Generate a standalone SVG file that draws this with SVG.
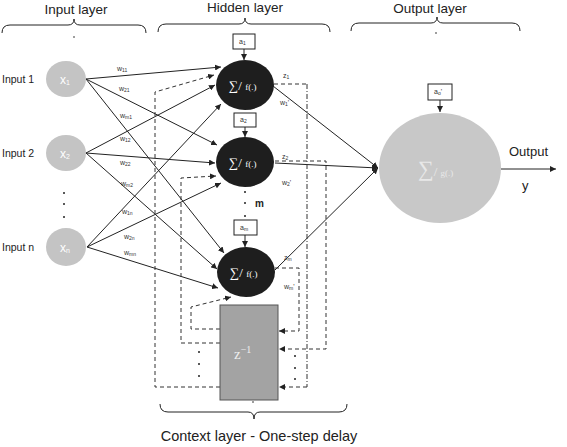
<svg xmlns="http://www.w3.org/2000/svg" width="567" height="447" viewBox="0 0 567 447">
<defs>
<marker id="ah" viewBox="0 0 10 10" refX="10" refY="5" markerWidth="6" markerHeight="6" orient="auto" markerUnits="userSpaceOnUse"><path d="M0,0 L10,5 L0,10 z" fill="#222"/></marker>
<style>
.t{font-family:"Liberation Sans",Arial,sans-serif;fill:#222}
.title{font-size:13.5px}
.lbl{font-size:7px;fill:#333}
.in{fill:#c4c4c4}
.hid{fill:#1e1e1e}
.wt{font-family:"Liberation Serif",serif;fill:#fff}
.sol{stroke:#222;stroke-width:1;fill:none}
.dash{stroke:#333;stroke-width:1;fill:none;stroke-dasharray:4 3}
.dd{stroke:#333;stroke-width:1;fill:none;stroke-dasharray:5 2 1 2}
.brace{stroke:#222;stroke-width:1;fill:none}
.bias{fill:#fff;stroke:#222;stroke-width:1}
.dot{fill:#222}
</style>
</defs>
<rect width="567" height="447" fill="#fff"/>

<!-- titles and braces -->
<g id="titles">
<text class="t title" x="76" y="14" text-anchor="middle">Input layer</text>
<text class="t title" x="245" y="12" text-anchor="middle">Hidden layer</text>
<text class="t title" x="430" y="13" text-anchor="middle">Output layer</text>
<path class="brace" d="M2,33 Q2,25 10,25 L68,25 Q74,25 74,19 Q74,25 80,25 L138,25 Q146,25 146,33"/>
<path class="brace" d="M158,32 Q158,24 166,24 L239,24 Q245,24 245,18 Q245,24 251,24 L322,24 Q330,24 330,32"/>
<path class="brace" d="M351,31 Q351,23 359,23 L431,23 Q437,23 437,17 Q437,23 443,23 L512,23 Q520,23 520,31"/>
<circle class="dot" cx="74" cy="37" r="0.8"/>
<circle class="dot" cx="245" cy="35" r="0.8"/>
<circle class="dot" cx="436" cy="33" r="0.8"/>
<path class="brace" d="M160,404 Q160,412 168,412 L248,412 Q254,412 254,419 Q254,412 260,412 L339,412 Q347,412 347,404"/>
<circle class="dot" cx="253" cy="402" r="0.8"/>
<text class="t" font-size="14.5" x="259" y="441" text-anchor="middle">Context layer - One-step delay</text>
</g>

<!-- connectors -->
<g id="connectors">
<line class="sol" x1="86" y1="79" x2="221" y2="67" marker-end="url(#ah)"/>
<line class="sol" x1="86" y1="79" x2="217" y2="145" marker-end="url(#ah)"/>
<line class="sol" x1="86" y1="79" x2="224" y2="253" marker-end="url(#ah)"/>
<line class="sol" x1="86" y1="153" x2="215" y2="85" marker-end="url(#ah)"/>
<line class="sol" x1="86" y1="153" x2="215" y2="163" marker-end="url(#ah)"/>
<line class="sol" x1="86" y1="153" x2="217" y2="269" marker-end="url(#ah)"/>
<line class="sol" x1="87" y1="247" x2="221" y2="104" marker-end="url(#ah)"/>
<line class="sol" x1="87" y1="247" x2="221" y2="183" marker-end="url(#ah)"/>
<line class="sol" x1="87" y1="247" x2="218" y2="288" marker-end="url(#ah)"/>
<line class="sol" x1="273" y1="86" x2="378" y2="168" marker-end="url(#ah)"/>
<line class="sol" x1="275" y1="163" x2="378" y2="168" marker-end="url(#ah)"/>
<line class="sol" x1="275" y1="270" x2="378" y2="168" marker-end="url(#ah)"/>
<line class="sol" x1="244" y1="49" x2="244" y2="60" marker-end="url(#ah)"/>
<line class="sol" x1="245" y1="127" x2="245" y2="137" marker-end="url(#ah)"/>
<line class="sol" x1="245" y1="235" x2="245" y2="247" marker-end="url(#ah)"/>
<line class="sol" x1="440" y1="100" x2="440" y2="112" marker-end="url(#ah)"/>
<line class="sol" x1="501" y1="169" x2="556" y2="169" marker-end="url(#ah)"/>
<polyline class="dash" points="274,84 307,84"/>
<polyline class="dd" points="307,84 307,387"/>
<polyline class="dash" points="307,387 279,387" marker-end="url(#ah)"/>
<polyline class="dash" points="275,161 326,161 326,349 279,349" marker-end="url(#ah)"/>
<polyline class="dash" points="275,268 299,268 299,331 279,331" marker-end="url(#ah)"/>
<polyline class="dash" points="220,387 155,387 155,92 214,75" marker-end="url(#ah)"/>
<polyline class="dash" points="220,343 181,343 181,178 216,176" marker-end="url(#ah)"/>
<polyline class="dash" points="220,329 191,329 191,307 231,297" marker-end="url(#ah)"/>
</g>

<!-- weight labels -->
<g id="weights" class="t lbl">
<text x="117" y="71">w<tspan font-size="5" dy="1">11</tspan></text>
<text x="119" y="91">w<tspan font-size="5" dy="1">21</tspan></text>
<text x="120" y="118">w<tspan font-size="5" dy="1">m1</tspan></text>
<text x="120" y="141">w<tspan font-size="5" dy="1">12</tspan></text>
<text x="120" y="165">w<tspan font-size="5" dy="1">22</tspan></text>
<text x="121" y="186">w<tspan font-size="5" dy="1">m2</tspan></text>
<text x="122" y="214">w<tspan font-size="5" dy="1">1n</tspan></text>
<text x="124" y="239">w<tspan font-size="5" dy="1">2n</tspan></text>
<text x="124" y="255">w<tspan font-size="5" dy="1">mn</tspan></text>
<text x="283" y="78">z<tspan font-size="5" dy="1">1</tspan></text>
<text x="280" y="105">w<tspan font-size="5" dy="1">1</tspan><tspan dy="-1">'</tspan></text>
<text x="282" y="159">z<tspan font-size="5" dy="1">2</tspan></text>
<text x="282" y="185">w<tspan font-size="5" dy="1">2</tspan><tspan dy="-1">'</tspan></text>
<text x="284" y="260">z<tspan font-size="5" dy="1">m</tspan></text>
<text x="284" y="289">w<tspan font-size="5" dy="1">m</tspan><tspan dy="-1">'</tspan></text>
</g>

<!-- input nodes -->
<g id="inputs">
<text class="t" font-size="10.5" x="2" y="83">Input 1</text>
<text class="t" font-size="10.5" x="2" y="157">Input 2</text>
<text class="t" font-size="10.5" x="2" y="251">Input n</text>
<circle class="dot" cx="64" cy="193" r="1"/>
<circle class="dot" cx="64" cy="204" r="1"/>
<circle class="dot" cx="64" cy="217" r="1"/>
</g>
<g id="x1"><ellipse class="in" cx="66" cy="79" rx="20" ry="18"/><text class="t" font-size="12" style="fill:#fff" x="60" y="84">x<tspan font-size="7" dy="1">1</tspan></text></g>
<g id="x2"><ellipse class="in" cx="66" cy="153" rx="20" ry="18"/><text class="t" font-size="12" style="fill:#fff" x="60" y="158">x<tspan font-size="7" dy="1">2</tspan></text></g>
<g id="xn"><ellipse class="in" cx="66" cy="247" rx="20" ry="19"/><text class="t" font-size="12" style="fill:#fff" x="60" y="252">x<tspan font-size="7" dy="1">n</tspan></text></g>

<!-- hidden nodes -->
<g id="h1">
<rect class="bias" x="233" y="34" width="22" height="15"/>
<text class="t lbl" x="239" y="44">a<tspan font-size="5" dy="1">1</tspan></text>
<ellipse class="hid" cx="245" cy="85" rx="29" ry="25"/>
<text class="wt" font-size="13" x="229" y="90">∑/ <tspan font-size="9">f(.)</tspan></text>
</g>
<g id="h2">
<rect class="bias" x="234" y="113" width="22" height="14"/>
<text class="t lbl" x="240" y="122">a<tspan font-size="5" dy="1">2</tspan></text>
<ellipse class="hid" cx="245" cy="162" rx="29" ry="25"/>
<text class="wt" font-size="13" x="229" y="167">∑/ <tspan font-size="9">f(.)</tspan></text>
</g>
<g id="hdots">
<circle class="dot" cx="245" cy="192" r="1"/>
<circle class="dot" cx="245" cy="203" r="1"/>
<circle class="dot" cx="245" cy="216" r="1"/>
<text class="t" font-size="10" font-weight="bold" x="255" y="207">m</text>
</g>
<g id="hm">
<rect class="bias" x="234" y="220" width="23" height="15"/>
<text class="t lbl" x="240" y="230">a<tspan font-size="5" dy="1">m</tspan></text>
<ellipse class="hid" cx="246" cy="272" rx="29" ry="25"/>
<text class="wt" font-size="13" x="230" y="277">∑/ <tspan font-size="9">f(.)</tspan></text>
</g>

<!-- output node -->
<g id="output">
<rect class="bias" x="428" y="84" width="24" height="16"/>
<text class="t lbl" x="434" y="94">a<tspan font-size="5" dy="1">o</tspan><tspan dy="-1">'</tspan></text>
<ellipse cx="440" cy="168" rx="61" ry="55" fill="#c8c8c8"/>
<text class="wt" font-size="22" style="fill:#e8e8e8" x="418" y="176">∑<tspan font-size="13">/ </tspan><tspan font-size="9">g(.)</tspan></text>
<text class="t" font-size="13" x="509" y="156">Output</text>
<text class="t" font-size="13" x="522" y="190">y</text>
</g>

<!-- delay -->
<g id="delay">
<rect x="220" y="305" width="58" height="95" fill="#a3a3a3" stroke="#555" stroke-width="1"/>
<text x="234" y="359" font-family="Liberation Serif,serif" font-size="15" fill="#eee">z<tspan font-size="10" dy="-6">−1</tspan></text>
<circle class="dot" cx="199" cy="352" r="1"/>
<circle class="dot" cx="199" cy="364" r="1"/>
<circle class="dot" cx="199" cy="376" r="1"/>
<circle class="dot" cx="295" cy="356" r="1"/>
<circle class="dot" cx="295" cy="368" r="1"/>
<circle class="dot" cx="295" cy="379" r="1"/>
</g>
</svg>
